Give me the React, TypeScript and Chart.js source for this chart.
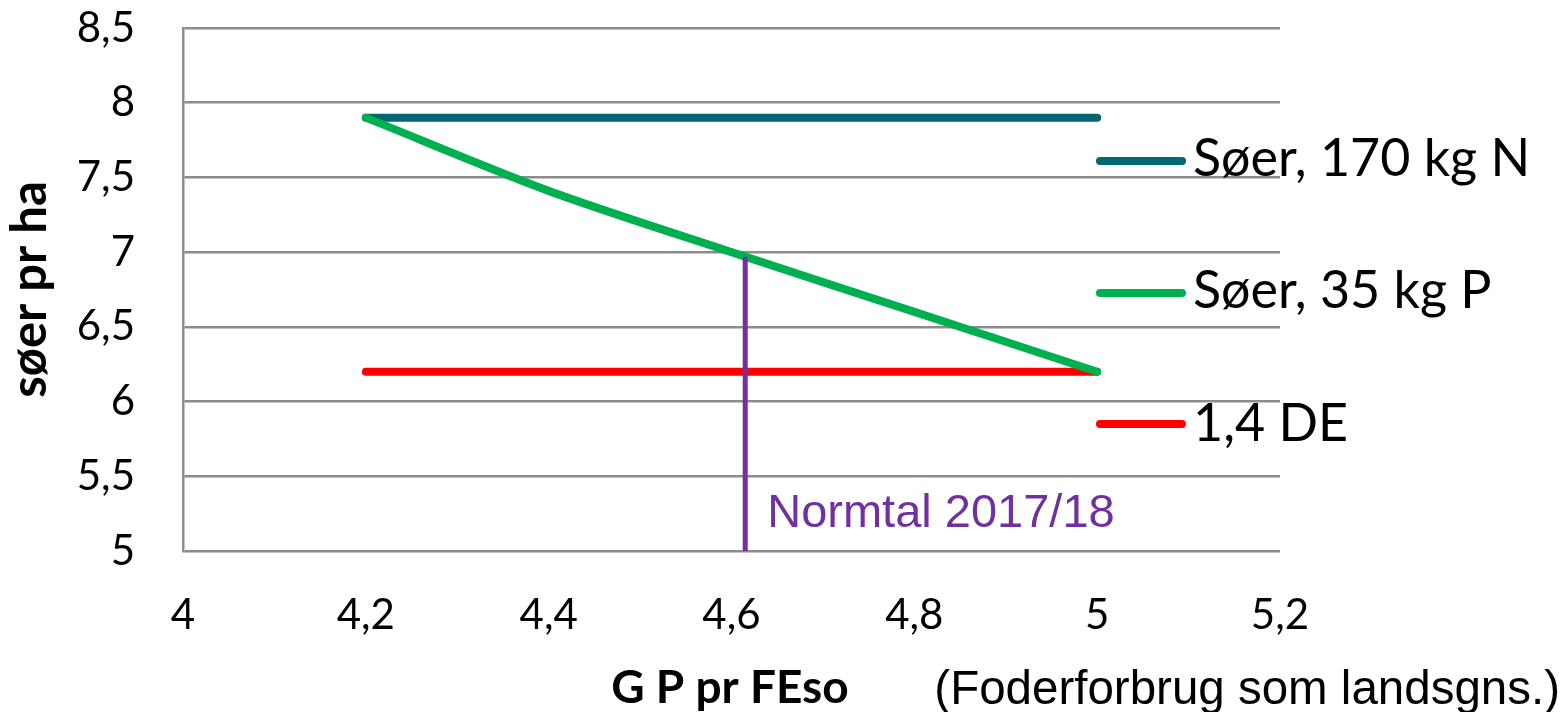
import React, { useEffect, useRef } from "react";
import { Chart, registerables } from "chart.js";

Chart.register(...registerables);

// ---- data ----
const xTickLabels = ["4", "4,2", "4,4", "4,6", "4,8", "5", "5,2"];
const yTickLabels = ["5", "5,5", "6", "6,5", "7", "7,5", "8", "8,5"];

const seriesNames = ["Søer, 170 kg N", "Søer, 35 kg P", "1,4 DE"];

const nX = [4.2, 5.0];
const nY = [7.9, 7.9];

const pX = [4.2, 4.4, 4.6, 4.8, 5.0];
const pY = [7.9, 7.41, 7.0, 6.6, 6.2];

const deX = [4.2, 5.0];
const deY = [6.2, 6.2];

const normX = [4.615, 4.615];
const normY = [5.0, 6.97];
const normLabel = "Normtal 2017/18";

const xTitle = "G P pr FEso";
const xNote = "(Foderforbrug som landsgns.)";
const yTitle = "søer pr ha";

const colors = ["#036672", "#00b050", "#ff0000"];
const purple = "#7030a0";

const toPts = (xs: number[], ys: number[]) => xs.map((x, i) => ({ x, y: ys[i] }));

const CAL = "Lato, 'Noto Sans', sans-serif";
const ARIAL = "'Liberation Sans', Arial, sans-serif";

const extrasPlugin = {
  id: "extras",
  afterDraw(chart: any) {
    const ctx = chart.ctx as CanvasRenderingContext2D;
    const xs = chart.scales.x;
    const ys = chart.scales.y;
    ctx.save();
    // legend
    const legendY = [161, 293, 424];
    const baseY = [176, 308, 441];
    seriesNames.forEach((name, i) => {
      ctx.strokeStyle = colors[i];
      ctx.lineWidth = 8;
      ctx.lineCap = "round";
      ctx.beginPath();
      ctx.moveTo(1100, legendY[i]);
      ctx.lineTo(1182, legendY[i]);
      ctx.stroke();
      ctx.fillStyle = "#000";
      ctx.font = `52px ${CAL}`;
      ctx.textAlign = "left";
      ctx.textBaseline = "alphabetic";
      ctx.fillText(name, 1193, baseY[i]);
    });
    // normtal label
    ctx.fillStyle = purple;
    ctx.font = `47px ${ARIAL}`;
    ctx.textAlign = "left";
    ctx.textBaseline = "alphabetic";
    ctx.fillText(normLabel, xs.getPixelForValue(normX[0]) + 22, 527);
    // x title
    ctx.fillStyle = "#000";
    ctx.font = `bold 46px ${CAL}`;
    ctx.textAlign = "center";
    ctx.fillText(xTitle, 730, 703);
    // note
    ctx.font = `47.5px ${ARIAL}`;
    ctx.textAlign = "right";
    ctx.fillText(xNote, 1560, 704);
    // y title
    ctx.save();
    ctx.translate(46, (ys.top + ys.bottom) / 2);
    ctx.rotate(-Math.PI / 2);
    ctx.font = `bold 49px ${CAL}`;
    ctx.textAlign = "center";
    ctx.fillText(yTitle, 0, 0);
    ctx.restore();
    ctx.restore();
  },
};

export default function App() {
  const ref = useRef<HTMLCanvasElement>(null);
  useEffect(() => {
    document.body.style.margin = "0";
    const chart = new Chart(ref.current!, {
      type: "line",
      data: {
        datasets: [
          {
            label: "Normtal",
            data: toPts(normX, normY),
            borderColor: purple,
            borderWidth: 5,
            borderCapStyle: "butt",
            pointRadius: 0,
            order: 0,
          },
          {
            label: seriesNames[1],
            data: toPts(pX, pY),
            borderColor: colors[1],
            borderWidth: 8,
            borderCapStyle: "round",
            tension: 0.3,
            pointRadius: 0,
            order: 1,
          },
          {
            label: seriesNames[2],
            data: toPts(deX, deY),
            borderColor: colors[2],
            borderWidth: 8,
            borderCapStyle: "round",
            pointRadius: 0,
            order: 2,
          },
          {
            label: seriesNames[0],
            data: toPts(nX, nY),
            borderColor: colors[0],
            borderWidth: 8,
            borderCapStyle: "round",
            pointRadius: 0,
            order: 3,
          },
        ],
      },
      options: {
        animation: false,
        responsive: true,
        maintainAspectRatio: false,
        layout: { padding: { top: 28, right: 286, left: 0, bottom: 0 } },
        plugins: { legend: { display: false }, tooltip: { enabled: false } },
        scales: {
          x: {
            type: "linear",
            min: 4,
            max: 5.2,
            ticks: {
              stepSize: 0.2,
              padding: 39,
              color: "#000",
              font: { family: CAL, size: 42 },
              callback: (_v: any, i: number) => xTickLabels[i],
            },
            grid: { display: false, drawTicks: false },
            border: { display: false },
            afterFit: (s: any) => {
              s.height = 161;
              s.paddingLeft = 0;
              s.paddingRight = 0;
            },
          },
          y: {
            type: "linear",
            min: 5,
            max: 8.5,
            ticks: {
              stepSize: 0.5,
              padding: 48,
              color: "#000",
              font: { family: CAL, size: 42 },
              callback: (_v: any, i: number) => yTickLabels[i],
            },
            grid: { color: "#8c8c8c", lineWidth: 2.5, drawTicks: false },
            border: { display: true, color: "#8c8c8c", width: 2.5 },
            afterFit: (s: any) => {
              s.width = 183;
              s.paddingTop = 0;
              s.paddingBottom = 0;
            },
          },
        },
      },
      plugins: [extrasPlugin],
    } as any);
    return () => chart.destroy();
  }, []);
  return (
    <div style={{ width: 1566, height: 712, position: "relative" }}>
      <canvas ref={ref} />
    </div>
  );
}
